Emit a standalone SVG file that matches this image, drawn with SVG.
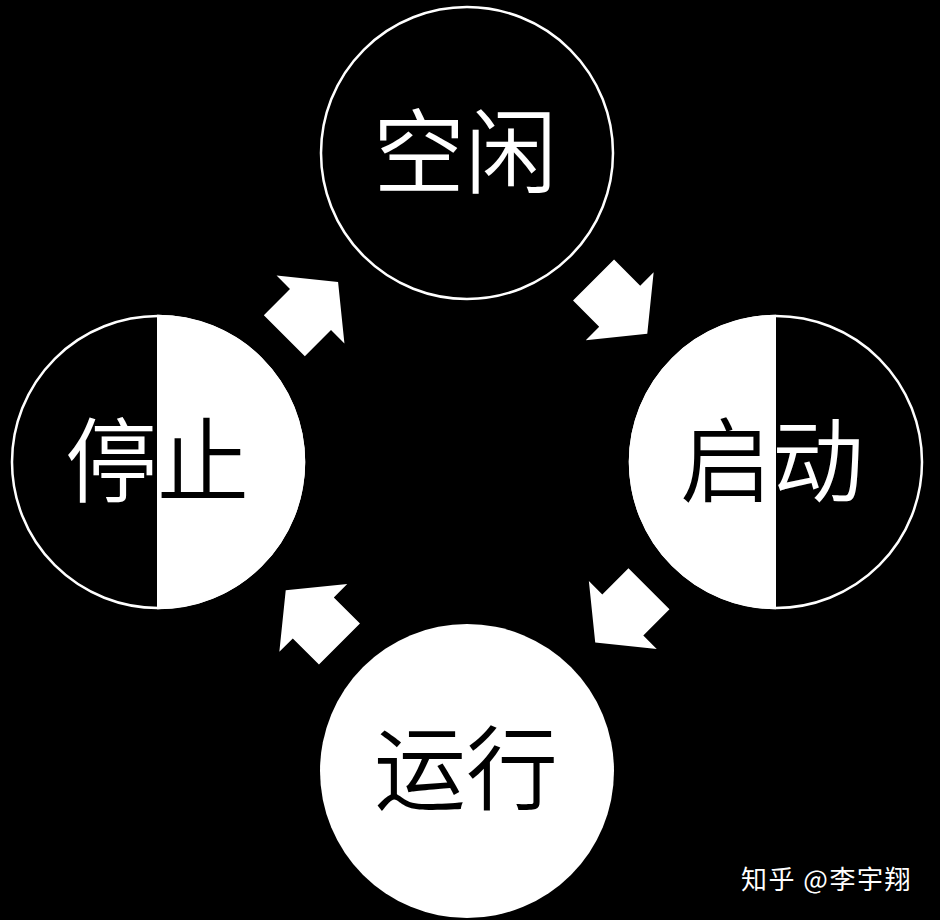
<svg xmlns="http://www.w3.org/2000/svg" width="940" height="920" viewBox="0 0 940 920">
<style>
.lbl{font-family:"Noto Sans CJK SC","Noto Sans",sans-serif;font-size:92px;font-weight:350;text-anchor:middle}
.w{fill:#fff}
.b{fill:#000}
.ring{stroke:#fff;stroke-width:2.5}
.arrow{fill:#fff}
.mark{font-family:"Noto Sans CJK SC","Noto Sans",sans-serif;font-size:26px;letter-spacing:1.5px;fill:#fff}
</style>
<defs>
<clipPath id="stopRight"><rect x="157" y="300" width="160" height="330"/></clipPath>
<clipPath id="startLeft"><rect x="620" y="300" width="156" height="330"/></clipPath>
<clipPath id="startRight"><rect x="776" y="300" width="160" height="330"/></clipPath>
<polygon id="arr" points="39,0 0,48 0,29 -37,29 -37,-29 0,-29 0,-48"/>
</defs>
<rect x="0" y="0" width="940" height="920" fill="#000"/>

<g id="connectors">
<use href="#arr" class="arrow" transform="translate(310.5,309.5) rotate(-45)"/>
<use href="#arr" class="arrow" transform="translate(619.7,306.2) rotate(45)"/>
<use href="#arr" class="arrow" transform="translate(622.8,615) rotate(135)"/>
<use href="#arr" class="arrow" transform="translate(313.3,617.9) rotate(-135)"/>
</g>

<g id="idle">
<circle cx="467" cy="153" r="146" class="ring" fill="#000"/>
<text x="465" y="186" class="lbl w">空闲</text>
</g>

<g id="stop">
<circle cx="158" cy="462" r="146" class="ring" fill="#000"/>
<circle cx="158" cy="462" r="147.2" fill="#fff" clip-path="url(#stopRight)"/>
<text x="157" y="495" class="lbl w">停止</text>
<text x="157" y="495" class="lbl b" clip-path="url(#stopRight)">停止</text>
</g>

<g id="start">
<circle cx="776" cy="462" r="146" class="ring" fill="#000"/>
<circle cx="776" cy="462" r="147.2" fill="#fff" clip-path="url(#startLeft)"/>
<text x="772" y="495" class="lbl b">启动</text>
<text x="772" y="495" class="lbl w" clip-path="url(#startRight)">启动</text>
</g>

<g id="run">
<circle cx="467" cy="771" r="147" fill="#fff"/>
<text x="466" y="803" class="lbl b">运行</text>
</g>

<text x="741" y="889" class="mark">知乎 @李宇翔</text>
</svg>
